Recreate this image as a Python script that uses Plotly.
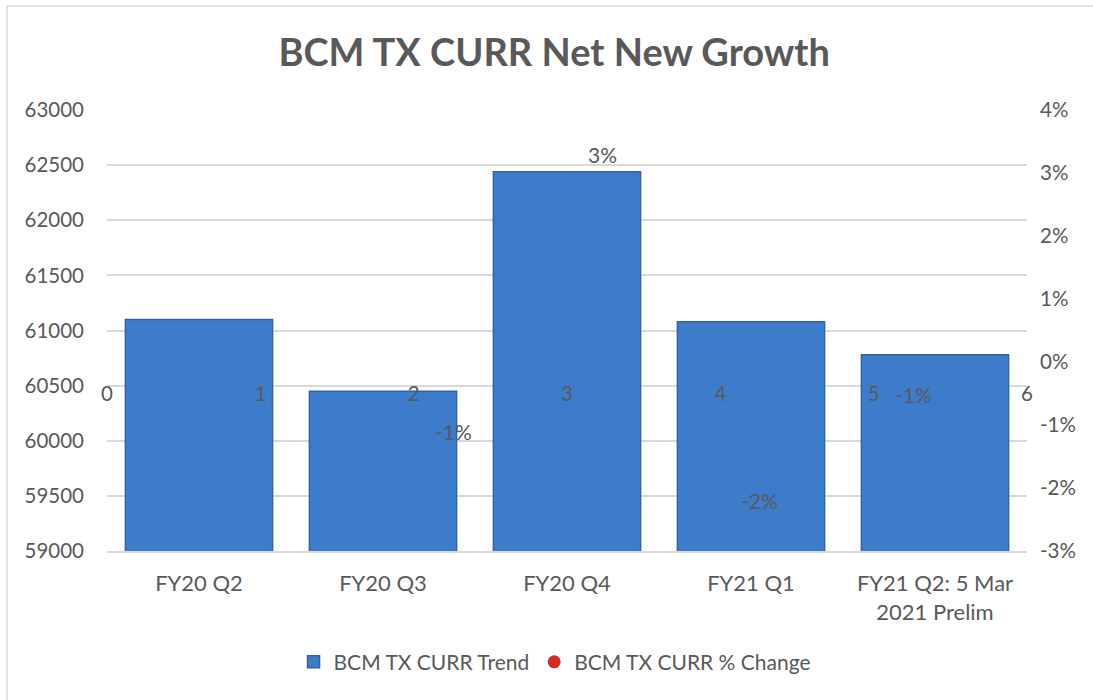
import plotly.graph_objects as go

categories = ["FY20 Q2", "FY20 Q3", "FY20 Q4", "FY21 Q1", "FY21 Q2: 5 Mar<br>2021 Prelim"]
trend_values = [61100, 60450, 62440, 61080, 60780]
pct_change = [None, -0.011, 0.033, -0.022, -0.0052]
secondary_ticks = [0, 1, 2, 3, 4, 5, 6]
pct_ticks = [-0.03, -0.02, -0.01, 0.0, 0.01, 0.02, 0.03, 0.04]

FONT = "Lato"
TXT = "#595959"
GRID = "#D9D9D9"

fig = go.Figure()

fig.add_trace(go.Bar(
    x=categories, y=trend_values, name="BCM TX CURR Trend",
    marker=dict(color="#3D7CCB", line=dict(color="#2F62A6", width=1.5)),
    xaxis="x", yaxis="y",
))

pct_x = list(range(1, len(categories) + 1))
# invisible carrier for the % change series (labels drawn as annotations)
fig.add_trace(go.Scatter(
    x=pct_x, y=pct_change, mode="markers", marker=dict(opacity=0),
    xaxis="x2", yaxis="y2", showlegend=False, hoverinfo="skip",
))
for xv, yv in zip(pct_x, pct_change):
    if yv is None:
        continue
    fig.add_annotation(x=xv, y=yv, xref="x2", yref="y2", text=f"{yv:.0%}",
                       showarrow=False, xanchor="left", yanchor="middle", xshift=19,
                       font=dict(family=FONT, size=21, color=TXT))

# legend entry for the % change series
fig.add_trace(go.Scatter(
    x=[None], y=[None], mode="markers", name="BCM TX CURR % Change",
    marker=dict(color="#D42A2A", size=13, symbol="circle"),
    xaxis="x2", yaxis="y2",
))

fig.update_layout(
    width=1093, height=700,
    margin=dict(l=107, r=66, t=110, b=149, autoexpand=False),
    paper_bgcolor="white", plot_bgcolor="white",
    font=dict(family=FONT, color=TXT, size=19),
    title=dict(text="<b>BCM TX CURR Net New Growth</b>", x=0.507, xanchor="center",
               y=0.925, yanchor="middle", font=dict(family=FONT, size=38, color=TXT)),
    bargap=0.2,
    showlegend=True,
    legend=dict(orientation="h", x=0.487, xanchor="center", y=-0.252, yanchor="middle",
                font=dict(family=FONT, size=21, color=TXT), itemwidth=30,
                traceorder="normal"),
    xaxis=dict(showline=True, linecolor=GRID, linewidth=1.5, showgrid=False, automargin=False,
               tickfont=dict(family=FONT, size=22, color=TXT), ticks="",
               ticklabelstandoff=12),
    yaxis=dict(range=[59000, 63000], dtick=500, showgrid=True, gridcolor=GRID, gridwidth=1.5,
               zeroline=False, tickfont=dict(family=FONT, size=20.5, color=TXT), automargin=False,
               ticklabelstandoff=22, tickformat="d"),
    xaxis2=dict(overlaying="x", anchor="free", position=0.388, side="bottom", automargin=False,
                range=[0, 6], tickvals=secondary_ticks, showgrid=False, showline=False,
                zeroline=False, ticks="", tickfont=dict(family=FONT, size=20.5, color=TXT)),
    yaxis2=dict(overlaying="y", side="right", anchor="x", range=[-0.03, 0.04],
                tickvals=pct_ticks, ticktext=[f"{v:.0%}" for v in pct_ticks], automargin=False,
                showgrid=False, zeroline=False,
                tickfont=dict(family=FONT, size=20.5, color=TXT), ticklabelstandoff=12),
)

fig.add_shape(type="rect", xref="paper", yref="paper",
              x0=-0.1087, y0=-0.345, x1=1.08, y1=1.2358,
              line=dict(color="#D9D9D9", width=1.5), fillcolor="rgba(0,0,0,0)", layer="below")

fig.write_html("out.html", config={"displayModeBar": False},
               post_script="document.body.style.margin='0';")
